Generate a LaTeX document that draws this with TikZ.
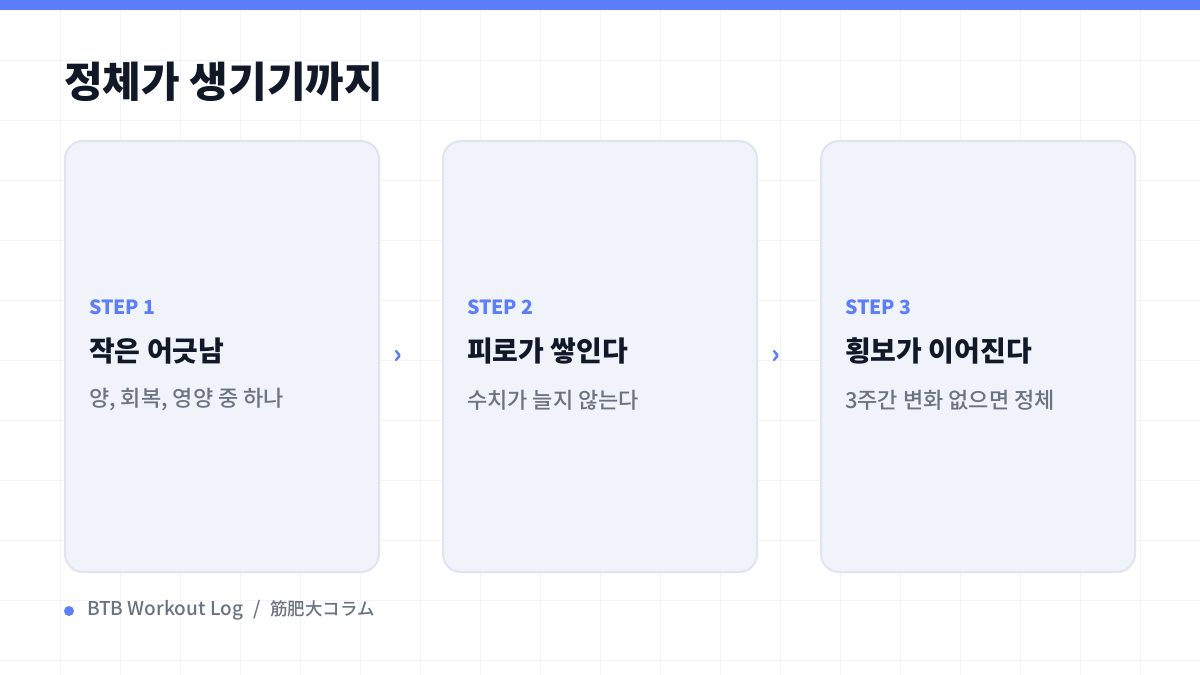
\documentclass[tikz,border=0pt]{standalone}
\usepackage{fontspec}
\setmainfont{Noto Sans CJK KR}
\newfontfamily\krmed{Noto Sans CJK KR}[UprightFont=* Medium]
\newfontfamily\jpmed{Noto Sans CJK JP}[UprightFont=* Medium]
\definecolor{barblue}{RGB}{92,126,248}
\definecolor{inkdark}{RGB}{17,24,39}
\definecolor{inkgray}{RGB}{107,114,128}
\definecolor{cardfill}{RGB}{241,243,251}
\definecolor{cardline}{RGB}{224,228,240}
\definecolor{gridline}{RGB}{243,244,246}
\tikzset{
  card/.style={draw=cardline, line width=2pt, fill=cardfill, rounded corners=18pt},
  steplabel/.style={anchor=west, inner sep=0pt, text=barblue, font=\fontsize{19.5}{24}\selectfont\bfseries},
  cardtitle/.style={anchor=west, inner sep=0pt, text=inkdark, font=\fontsize{28}{32}\selectfont\bfseries},
  cardsub/.style={anchor=west, inner sep=0pt, text=inkgray, font=\fontsize{22}{26}\selectfont\krmed},
  chev/.style={inner sep=0pt, text=barblue, font=\fontsize{26}{30}\selectfont\bfseries},
}
\begin{document}
\begin{tikzpicture}[x=1pt,y=-1pt]
\useasboundingbox (0,0) rectangle (1200,675);
\fill[white] (0,0) rectangle (1200,675);
% grid
\foreach \gx in {60,120,...,1140} \draw[gridline, line width=1pt] (\gx,0) -- (\gx,675);
\foreach \gy in {60,120,...,660} \draw[gridline, line width=1pt] (0,\gy) -- (1200,\gy);
% top bar
\fill[barblue] (0,0) rectangle (1200,10);
% title
\node[anchor=west, inner sep=0pt, text=inkdark, font=\fontsize{42}{48}\selectfont\bfseries] (title) at (64,82) {정체가 생기기까지};
% cards
\draw[card] (65,141) rectangle (379,572);
\draw[card] (443,141) rectangle (757,572);
\draw[card] (821,141) rectangle (1135,572);
% card 1
\node[steplabel] (s1) at (89,307) {STEP 1};
\node[cardtitle] (t1) at (89,351) {작은 어긋남};
\node[cardsub] (d1) at (89,400) {양, 회복, 영양 중 하나};
% card 2
\node[steplabel] (s2) at (467,307) {STEP 2};
\node[cardtitle] (t2) at (467,351) {피로가 쌓인다};
\node[cardsub] (d2) at (467,400) {수치가 늘지 않는다};
% card 3
\node[steplabel] (s3) at (845,307) {STEP 3};
\node[cardtitle] (t3) at (845,351) {횡보가 이어진다};
\node[cardsub] (d3) at (845,400) {3주간 변화 없으면 정체};
% chevrons
\node[chev] (c1) at (398,357) {›};
\node[chev] (c2) at (776,357) {›};
% footer
\fill[barblue] (69,611) circle (5);
\node[anchor=west, inner sep=0pt, text=inkgray, font=\fontsize{19}{23}\selectfont\krmed] (foot) at (87,610) {BTB Workout Log\hspace{10pt}/\hspace{10pt}{\jpmed\fontsize{17.5}{22}\selectfont 筋肥大コラム}};
\end{tikzpicture}
\end{document}
